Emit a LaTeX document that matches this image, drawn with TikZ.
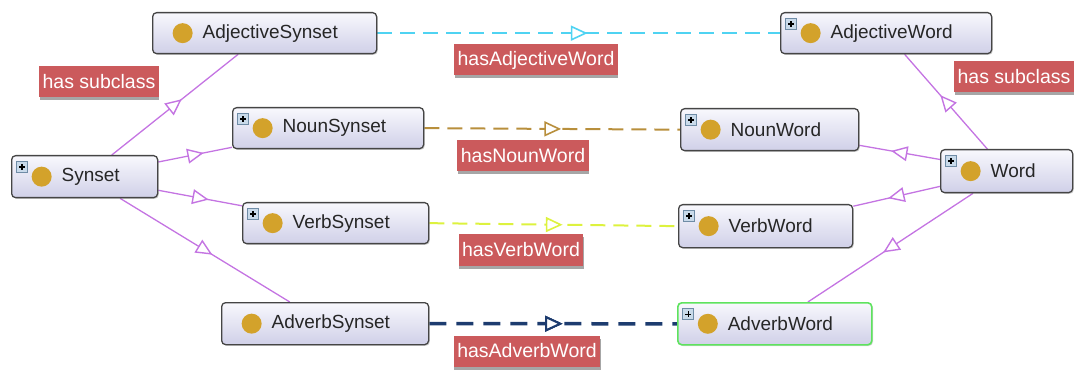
\documentclass[tikz,border=0pt]{standalone}
\usepackage{fontspec}
\setmainfont{Liberation Sans}
\usetikzlibrary{decorations.markings,shadows}
\pgfdeclarelayer{background}
\pgfsetlayers{background,main}

\definecolor{nodeedge}{HTML}{454545}
\definecolor{nodetop}{HTML}{F8F8FD}
\definecolor{nodebot}{HTML}{D0D0E8}
\definecolor{dotgold}{HTML}{D3A22B}
\definecolor{iconfill}{HTML}{C9DAEA}
\definecolor{iconedge}{HTML}{6F8CA6}
\definecolor{tagred}{HTML}{CB5A5C}
\definecolor{subpurple}{HTML}{C474E2}
\definecolor{adjcyan}{HTML}{4FD3F2}
\definecolor{nounbrown}{HTML}{B88F3C}
\definecolor{verbyellow}{HTML}{DDF23E}
\definecolor{advnavy}{HTML}{1D3C6F}
\definecolor{selgreen}{HTML}{5EE35E}

\newcommand\nodeface{\fontsize{19}{22}\selectfont}
\newcommand\tagface{\fontsize{19.5}{22}\selectfont}

\begin{document}
\begin{tikzpicture}[x=1pt,y=-1pt,
  cls/.style={draw=nodeedge, line width=1.3pt, rounded corners=4pt,
    top color=nodetop, bottom color=nodebot,
    inner xsep=0pt, inner ysep=0pt, minimum height=41pt,
    align=left, anchor=north west, font=\nodeface, text=black!85,
    drop shadow={shadow xshift=1.2pt, shadow yshift=-1.2pt, opacity=.3},
    path picture={
      \fill[dotgold] ([xshift=30pt]path picture bounding box.west) circle[radius=10pt];
    }},
  clsplus/.style={cls,
    path picture={
      \fill[dotgold] ([xshift=30pt]path picture bounding box.west) circle[radius=10pt];
      \draw[iconedge, fill=iconfill, line width=.7pt, sharp corners]
        ([shift={(5pt,-6pt)}]path picture bounding box.north west) rectangle ++(11pt,-11pt);
      \draw[black, line width=1.4pt, sharp corners]
        ([shift={(7.5pt,-11.5pt)}]path picture bounding box.north west) -- ++(6pt,0pt)
        ([shift={(10.5pt,-8.5pt)}]path picture bounding box.north west) -- ++(0pt,-6pt);
    }},
  tag/.style={fill=tagred, text=white, font=\tagface, inner xsep=3.5pt, inner ysep=0pt,
    minimum height=31pt,
    drop shadow={shadow xshift=0.5pt, shadow yshift=-3pt, fill=black!35, opacity=1}},
  % open triangle placed half-way along a connector
  midtip/.style={postaction={decorate}, decoration={markings,
    mark=at position .5 with {\draw[solid, fill=white, line width=#1, sharp corners, line join=miter]
      (7pt,0pt) -- (-7pt,6.5pt) -- (-7pt,-6.5pt) -- cycle;}}},
  subcl/.style={color=subpurple, line width=1.3pt, midtip=1.4pt},
  objprop/.style={line width=2pt, dash pattern=on 15pt off 8pt, midtip=1.6pt}
]
\useasboundingbox (0,0) rectangle (1075,371);

% synset classes
\node[cls, text width=224pt] (adjs) at (152,12) {\hspace*{50pt}AdjectiveSynset};
\node[clsplus, text width=146pt, minimum height=42pt] (synset) at (11,155) {\hspace*{50pt}Synset};
\node[clsplus, text width=191pt] (nouns) at (232,107) {\hspace*{50pt}NounSynset};
\node[clsplus, text width=186pt] (verbs) at (242,202) {\hspace*{50pt}VerbSynset};
\node[cls, text width=207pt, minimum height=42pt] (advs) at (221,302) {\hspace*{50pt}AdverbSynset};

% word classes
\node[clsplus, text width=211pt] (adjw) at (780,12) {\hspace*{50pt}AdjectiveWord};
\node[clsplus, text width=178pt, minimum height=42pt] (nounw) at (680,108) {\hspace*{50pt}NounWord};
\node[clsplus, text width=132pt, minimum height=43pt] (word) at (940,149) {\hspace*{50pt}Word};
\node[clsplus, text width=174pt, minimum height=43pt] (verbw) at (678,204) {\hspace*{50pt}VerbWord};
\node[clsplus, text width=194pt, minimum height=42pt, draw=selgreen, line width=1.6pt] (advw) at (677,302) {\hspace*{50pt}AdverbWord};

% connectors
\begin{pgfonlayer}{background}
  \draw[subcl] (synset) -- (adjs);
  \draw[subcl] (synset) -- (nouns);
  \draw[subcl] (synset) -- (verbs);
  \draw[subcl] (synset) -- (advs);
  \draw[subcl] (word) -- (adjw);
  \draw[subcl] (word) -- (nounw);
  \draw[subcl] (word) -- (verbw);
  \draw[subcl] (word) -- (advw);

  \draw[objprop, color=adjcyan] (adjs.east) -- (adjw.west);
  \draw[objprop, color=nounbrown] (nouns.east) -- (nounw.west);
  \draw[objprop, color=verbyellow] (verbs.east) -- (verbw.west);
  \draw[objprop, color=advnavy, line width=3.5pt, dash pattern=on 17pt off 10pt, midtip=2pt] (advs.east) -- (advw.west);
\end{pgfonlayer}

% edge labels
\node[tag] (subl) at (99,82) {has subclass};
\node[tag] (subr) at (1014,77) {has subclass};
\node[tag] (hadj) at (536,60) {hasAdjectiveWord};
\node[tag] (hnoun) at (523,156) {hasNounWord};
\node[tag] (hverb) at (521,250) {hasVerbWord};
\node[tag] (hadv) at (527,351) {hasAdverbWord};
\end{tikzpicture}
\end{document}
